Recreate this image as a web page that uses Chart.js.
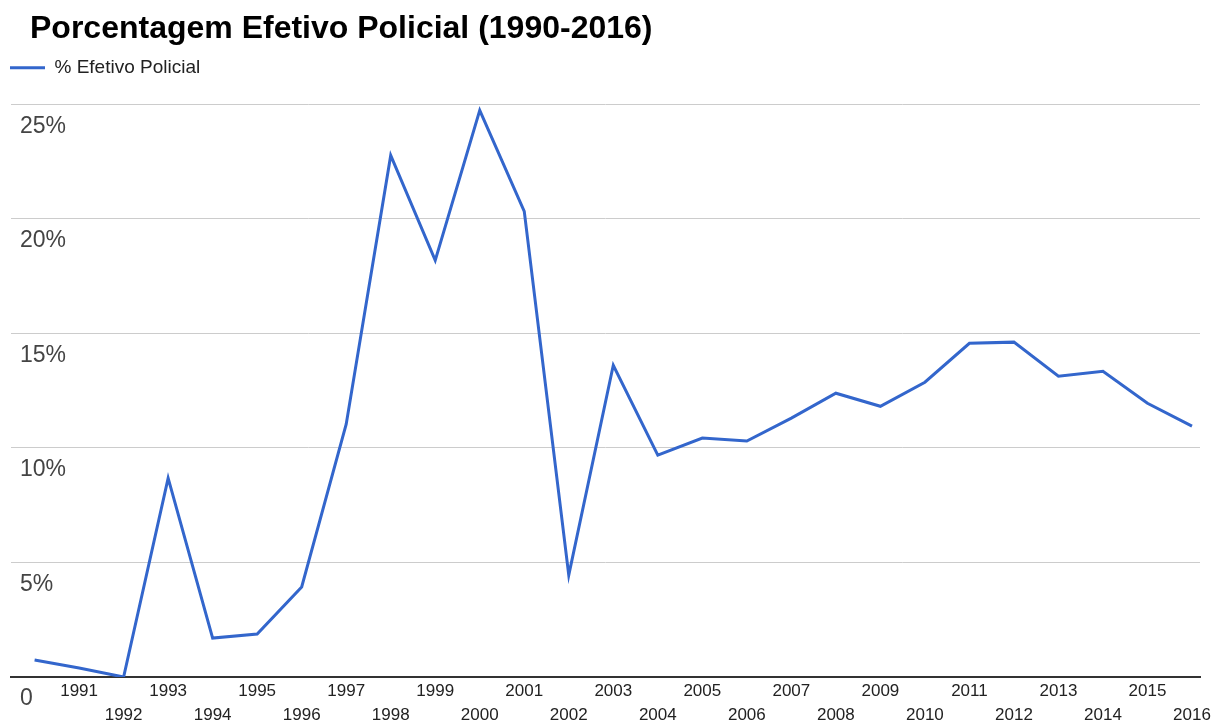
<!DOCTYPE html>
<html>
<head>
<meta charset="utf-8">
<script src="https://cdn.jsdelivr.net/npm/chart.js@4.4.1/dist/chart.umd.min.js"></script>
<style>
  html, body { margin: 0; padding: 0; background: #fff; }
  #wrap { width: 1224px; height: 722px; position: relative; }
</style>
</head>
<body>
<div id="wrap"><canvas id="policeChart"></canvas></div>
<script>
const years = [1990, 1991, 1992, 1993, 1994, 1995, 1996, 1997, 1998, 1999,
    2000, 2001, 2002, 2003, 2004, 2005, 2006, 2007, 2008, 2009,
    2010, 2011, 2012, 2013, 2014, 2015, 2016];

const percentages = [0.74, 0.39, 0, 8.68, 1.70, 1.88, 3.93, 11.04, 22.77, 18.19,
    24.74, 20.33, 4.45, 13.61, 9.69, 10.43, 10.30, 11.30, 12.39, 11.82,
    12.87, 14.57, 14.62, 13.13, 13.35, 11.95, 10.95];

const yTicks = [0, 5, 10, 15, 20, 25];

const points = years.map((y, i) => ({ x: y, y: percentages[i] }));

// move the title a bit right, like the original
const shiftTitle = {
    id: 'shiftTitle',
    afterLayout(chart) {
        if (chart.titleBlock) chart.titleBlock.left += 30;
    }
};

const data = {
    datasets: [{
        label: '% Efetivo Policial',
        data: points,
        borderColor: '#3366cc',
        backgroundColor: '#3366cc',
        borderWidth: 3,
        pointRadius: 0,
        tension: 0
    }]
};

const config = {
    type: 'line',
    data: data,
    options: {
        responsive: true,
        maintainAspectRatio: false,
        animation: false,
        layout: { padding: { left: 0, right: 24, top: 0, bottom: 0 } },
        plugins: {
            title: {
                display: true,
                text: 'Porcentagem Efetivo Policial (1990-2016)',
                align: 'start',
                color: '#000',
                font: { family: 'Liberation Sans, Arial, sans-serif', size: 32, weight: 'bold', lineHeight: 1.1 },
                padding: { top: 12, bottom: 1 }
            },
            legend: {
                align: 'start',
                labels: {
                    usePointStyle: true,
                    pointStyle: 'line',
                    pointStyleWidth: 35,
                    padding: 10,
                    color: '#222',
                    font: { family: 'Liberation Sans, Arial, sans-serif', size: 19 }
                }
            },
            tooltip: { enabled: false }
        },
        scales: {
            x: {
                type: 'linear',
                min: 1989.47,
                max: 2016.18,
                grid: { display: false, drawTicks: false },
                border: { display: true, color: '#333', width: 2 },
                afterFit(scale) { scale.height = 45; },
                ticks: {
                    stepSize: 1,
                    includeBounds: false,
                    autoSkip: false,
                    maxRotation: 0,
                    padding: 2,
                    color: '#222',
                    font: { family: 'Liberation Sans, Arial, sans-serif', size: 17, lineHeight: '24px' },
                    callback(v) {
                        if (!years.includes(v) || v === years[0]) return '';
                        return v % 2 === 1 ? [String(v), ''] : ['', String(v)];
                    }
                }
            },
            y: {
                min: 0,
                max: 25.75,
                grid: { color: '#cccccc', lineWidth: 1, drawTicks: false },
                border: { display: false },
                afterFit(scale) { scale.width = 11; },
                afterBuildTicks(scale) { scale.ticks = yTicks.map(v => ({ value: v })); },
                ticks: {
                    mirror: true,
                    padding: 9,
                    labelOffset: 22,
                    color: '#444',
                    font: { family: 'Liberation Sans, Arial, sans-serif', size: 23 },
                    callback(v) { return v === 0 ? '0' : v + '%'; }
                }
            }
        }
    },
    plugins: [shiftTitle]
};

// eslint-disable-next-line
const policeChart = new Chart(
    document.getElementById('policeChart'),
    config
);
</script>
</body>
</html>
